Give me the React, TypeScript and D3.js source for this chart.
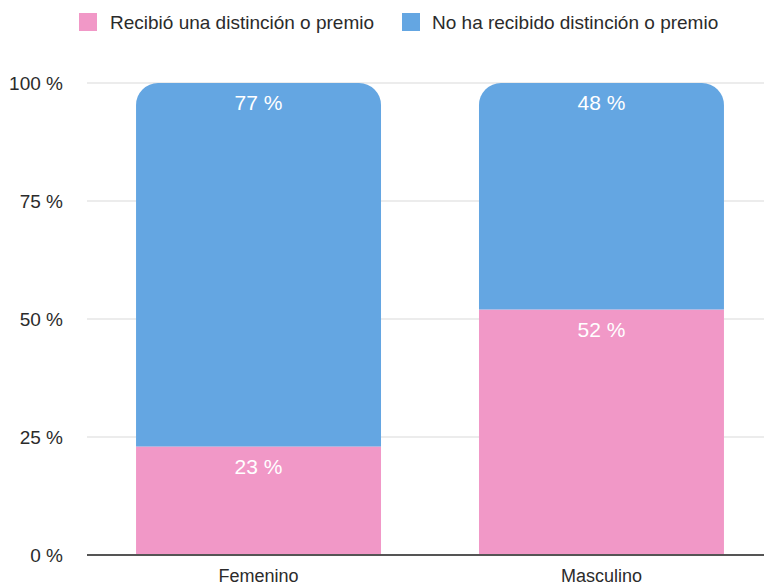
import React from "react";
import * as d3 from "d3";

const categories = ["Femenino", "Masculino"];
const seriesNames = ["Recibió una distinción o premio", "No ha recibido distinción o premio"];
const recibio = [23, 52];
const noRecibio = [77, 48];
const yTicks = [0, 25, 50, 75, 100];
const colors = ["#F198C7", "#64A6E2"];

const W = 764;
const H = 586;

export default function App() {
  const x = d3.scaleBand<string>().domain(categories).range([87, 773]).paddingInner(0.2857).paddingOuter(0.143);
  const y = d3.scaleLinear().domain([0, 100]).range([555, 83]);
  const rows = categories.map((c, i) => ({ cat: c, a: recibio[i], b: noRecibio[i] }));
  const stack = d3.stack<any>().keys(["a", "b"])(rows);
  const font = "'Liberation Sans', Arial, Helvetica, sans-serif";
  const r = 22;

  const topRounded = (x0: number, y0: number, w: number, y1: number) => {
    const p = d3.path();
    p.moveTo(x0, y1);
    p.lineTo(x0, y0 + r);
    p.arcTo(x0, y0, x0 + r, y0, r);
    p.lineTo(x0 + w - r, y0);
    p.arcTo(x0 + w, y0, x0 + w, y0 + r, r);
    p.lineTo(x0 + w, y1);
    p.closePath();
    return p.toString();
  };

  return (
    <svg width={W} height={H} style={{ position: "absolute", left: 0, top: 0, background: "#fff" }}>
      {/* legend */}
      <rect x={79} y={13} width={18} height={18} fill={colors[0]} />
      <text x={110} y={29} fontFamily={font} fontSize={19} fill="#2b2b2b">{seriesNames[0]}</text>
      <rect x={402} y={13} width={18} height={18} fill={colors[1]} />
      <text x={432} y={29} fontFamily={font} fontSize={19} fill="#2b2b2b">{seriesNames[1]}</text>

      {/* gridlines */}
      {yTicks.filter(t => t > 0).map(t => (
        <line key={t} x1={87} x2={W} y1={y(t)} y2={y(t)} stroke="#d9d9d9" strokeWidth={1} />
      ))}
      {yTicks.map(t => (
        <text key={"l" + t} x={63} y={y(t)} dy="0.35em" textAnchor="end" fontFamily={font} fontSize={19} fill="#2b2b2b">{t} %</text>
      ))}

      {/* bars */}
      {stack.map((s, si) => (
        <g key={si}>
          {s.map((d: any, i: number) => {
            const x0 = x(categories[i])!;
            const w = x.bandwidth();
            const yTop = y(d[1]);
            const yBot = y(d[0]);
            return si === 1 ? (
              <path key={i} d={topRounded(x0, yTop, w, yBot)} fill={colors[si]} />
            ) : (
              <rect key={i} x={x0} y={yTop} width={w} height={yBot - yTop} fill={colors[si]} />
            );
          })}
          {s.map((d: any, i: number) => (
            <text key={"t" + i} x={x(categories[i])! + x.bandwidth() / 2} y={y(d[1]) + 20} dy="0.35em" textAnchor="middle" fontFamily={font} fontSize={21} fill="#fff">
              {d[1] - d[0]} %
            </text>
          ))}
        </g>
      ))}

      {/* axis */}
      <line x1={87} x2={W} y1={y(0)} y2={y(0)} stroke="#555" strokeWidth={2} />
      {categories.map(c => (
        <text key={c} x={x(c)! + x.bandwidth() / 2} y={582} textAnchor="middle" fontFamily={font} fontSize={18} fill="#2b2b2b">{c}</text>
      ))}
    </svg>
  );
}
